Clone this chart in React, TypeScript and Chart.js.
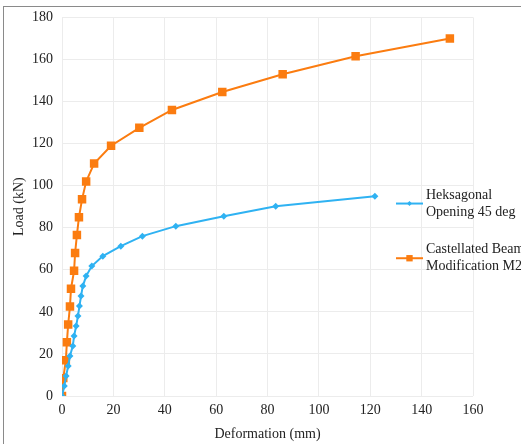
import React, { useEffect, useRef } from "react";
import { Chart, registerables } from "chart.js";

Chart.register(...registerables);

const hexDeformation = [0, 0.9, 1.6, 2.4, 3.1, 4.2, 4.7, 5.5, 6.2, 6.8, 7.4, 8.1, 9.4, 11.6, 15.9, 22.9, 31.3, 44.3, 63, 83.2, 121.8];
const hexLoad = [0, 4.75, 9.5, 14.25, 19, 23.75, 28.5, 33.25, 38, 42.75, 47.5, 52.25, 57, 61.75, 66.5, 71.25, 76, 80.75, 85.5, 90.25, 95];
const castDeformation = [0, 0.5, 1.5, 1.9, 2.4, 3.1, 3.5, 4.7, 5.1, 5.8, 6.6, 7.8, 9.4, 12.5, 19.1, 30.1, 42.8, 62.4, 85.9, 114.3, 151.0];
const castLoad = [0, 8.5, 17, 25.5, 34, 42.5, 51, 59.5, 68, 76.5, 85, 93.5, 102, 110.5, 119, 127.5, 136, 144.5, 153, 161.5, 170];

const legendLabels = [
  ["Heksagonal", "Opening 45 deg"],
  ["Castellated Beam", "Modification M2"],
];
const legendLoadAnchor = [91.5, 65.5];

const BLUE = "#2fb2f2";
const ORANGE = "#fb7c10";
const FONT = "'Liberation Serif', 'DejaVu Serif', serif";

const legendPlugin = {
  id: "sideLegend",
  afterDraw(chart: any) {
    const ctx = chart.ctx;
    const area = chart.chartArea;
    const yScale = chart.scales.y;
    const styles = [
      { color: BLUE, style: "rectRot", r: 3.5 },
      { color: ORANGE, style: "rect", r: 4.5 },
    ];
    ctx.save();
    legendLabels.forEach((lines, i) => {
      const cy = yScale.getPixelForValue(legendLoadAnchor[i]);
      const x0 = area.right - 77;
      const x1 = x0 + 27;
      ctx.strokeStyle = styles[i].color;
      ctx.lineWidth = 2;
      ctx.beginPath();
      ctx.moveTo(x0, cy);
      ctx.lineTo(x1, cy);
      ctx.stroke();
      ctx.fillStyle = styles[i].color;
      const s = styles[i].r * Math.SQRT1_2;
      const mx = (x0 + x1) / 2;
      ctx.beginPath();
      if (styles[i].style === "rect") {
        ctx.rect(mx - s, cy - s, 2 * s, 2 * s);
      } else {
        ctx.moveTo(mx - s, cy);
        ctx.lineTo(mx, cy + s);
        ctx.lineTo(mx + s, cy);
        ctx.lineTo(mx, cy - s);
        ctx.closePath();
      }
      ctx.fill();
      ctx.fillStyle = "#222";
      ctx.font = `14px ${FONT}`;
      ctx.textBaseline = "middle";
      ctx.textAlign = "left";
      ctx.fillText(lines[0], x1 + 3, cy - 8.5);
      ctx.fillText(lines[1], x1 + 3, cy + 8.5);
    });
    ctx.restore();
  },
};

export default function App() {
  const ref = useRef<HTMLCanvasElement>(null);
  useEffect(() => {
    if (!ref.current) return;
    const chart = new Chart(ref.current, {
      type: "scatter",
      data: {
        datasets: [
          {
            label: legendLabels[0].join(" "),
            data: hexDeformation.map((x, i) => ({ x, y: hexLoad[i] })),
            showLine: true,
            borderColor: BLUE,
            backgroundColor: BLUE,
            borderWidth: 2,
            pointStyle: "rectRot",
            pointRadius: 3.5,
            pointBorderWidth: 0,
          },
          {
            label: legendLabels[1].join(" "),
            data: castDeformation.map((x, i) => ({ x, y: castLoad[i] })),
            showLine: true,
            borderColor: ORANGE,
            backgroundColor: ORANGE,
            borderWidth: 2,
            pointStyle: "rect",
            pointRadius: 6,
            pointBorderWidth: 0,
          },
        ],
      },
      plugins: [legendPlugin],
      options: {
        animation: false,
        responsive: false,
        maintainAspectRatio: false,
        layout: { padding: { left: 0, right: 48, top: 8, bottom: 0 } },
        plugins: { legend: { display: false }, tooltip: { enabled: false } },
        scales: {
          x: {
            type: "linear",
            min: 0,
            max: 160,
            ticks: { stepSize: 20, padding: 6, color: "#222", font: { family: FONT, size: 14 } },
            grid: { color: "#ececec", drawTicks: false },
            border: { display: false },
            title: {
              display: true,
              text: "Deformation (mm)",
              color: "#222",
              font: { family: FONT, size: 14 },
              padding: { top: 0, bottom: 1 },
            },
            afterFit: (s: any) => {
              s.height = 48;
            },
          },
          y: {
            type: "linear",
            min: 0,
            max: 180,
            ticks: { stepSize: 20, padding: 9, color: "#222", font: { family: FONT, size: 14 } },
            grid: { color: "#ececec", drawTicks: false },
            border: { display: false },
            title: {
              display: true,
              text: "Load (kN)",
              color: "#222",
              font: { family: FONT, size: 14 },
              padding: { top: 11, bottom: 0 },
            },
            afterFit: (s: any) => {
              s.width = 62;
            },
          },
        },
      },
    });
    return () => chart.destroy();
  }, []);
  return (
    <div style={{ position: "fixed", left: 0, top: 0, width: 521, height: 444, background: "#fff" }}>
      <div
        style={{
          position: "absolute",
          left: 3,
          top: 6,
          right: -2,
          bottom: -2,
          borderLeft: "1px solid #8a8a8a",
          borderTop: "1px solid #8a8a8a",
        }}
      />
      <canvas ref={ref} width={521} height={444} style={{ position: "absolute", left: 0, top: 0, width: 521, height: 444 }} />
    </div>
  );
}
